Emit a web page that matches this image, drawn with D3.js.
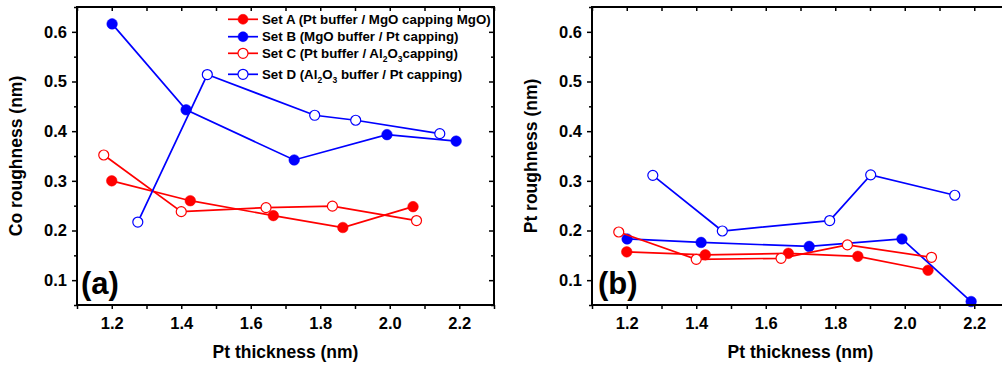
<!DOCTYPE html>
<html><head><meta charset="utf-8">
<script src="https://cdn.jsdelivr.net/npm/d3@7"></script>
<style>
html,body{margin:0;padding:0;background:#fff;}
svg{display:block;}
text{font-family:"Liberation Sans",Arial,sans-serif;font-weight:bold;}
</style></head>
<body>
<svg id="c" width="1002" height="365"></svg>
<script>
// Pt thickness (nm) for each sample set
const xA = [1.200, 1.426, 1.665, 1.865, 2.067];
const xB = [1.201, 1.414, 1.725, 1.992, 2.191];
const xC = [1.177, 1.400, 1.644, 1.835, 2.077];
const xD = [1.275, 1.475, 1.784, 1.902, 2.144];
// Co roughness (nm), panel (a)
const coA = [0.300, 0.260, 0.230, 0.206, 0.248];
const coB = [0.616, 0.443, 0.342, 0.393, 0.380];
const coC = [0.352, 0.238, 0.246, 0.249, 0.220];
const coD = [0.217, 0.514, 0.432, 0.422, 0.395];
// Pt roughness (nm), panel (b)
const ptA = [0.157, 0.151, 0.154, 0.148, 0.120];
const ptB = [0.183, 0.176, 0.168, 0.183, 0.057];
const ptC = [0.197, 0.142, 0.144, 0.171, 0.146];
const ptD = [0.311, 0.199, 0.220, 0.312, 0.271];
// ticks
const xMajor = [1.2, 1.4, 1.6, 1.8, 2.0, 2.2];
const xMinor = [1.1, 1.3, 1.5, 1.7, 1.9, 2.1, 2.3];
const yMajor = [0.1, 0.2, 0.3, 0.4, 0.5, 0.6];
const yMinor = [0.05, 0.15, 0.25, 0.35, 0.45, 0.55, 0.65];
const xDomain = [1.1, 2.3];
const yDomain = [0.05, 0.65];
// legend
const legendLabels = [
  [{t:"Set A (Pt buffer / MgO capping MgO)"}],
  [{t:"Set B (MgO buffer / Pt capping)"}],
  [{t:"Set C (Pt buffer / Al"},{t:"2",s:1},{t:"O"},{t:"3",s:1},{t:"capping)"}],
  [{t:"Set D (Al"},{t:"2",s:1},{t:"O"},{t:"3",s:1},{t:" buffer / Pt capping)"}]
];

const RED = "#ff0000", BLUE = "#0000ff";
const svg = d3.select("#c");

function panel(left, right, series, yTitle, tag, tagX, showLegend) {
  const top = 7, bottom = 305;
  const x = d3.scaleLinear().domain(xDomain).range([left, right]);
  const y = d3.scaleLinear().domain(yDomain).range([bottom, top]);
  const g = svg.append("g");

  const styleAxis = sel => { sel.select(".domain").remove(); sel.selectAll("line").attr("stroke","#000").attr("stroke-width",1.5); };
  // bottom
  g.append("g").attr("transform",`translate(0,${bottom})`)
    .call(d3.axisBottom(x).tickValues(xMajor).tickSize(4).tickPadding(8.5).tickFormat(d3.format(".1f")))
    .call(styleAxis)
    .call(s=>s.selectAll("text").attr("font-size",16.5).attr("fill","#000").attr("font-family",null));
  g.append("g").attr("transform",`translate(0,${bottom})`)
    .call(d3.axisBottom(x).tickValues(xMinor).tickSize(4).tickFormat(""))
    .call(styleAxis);
  // top (inward)
  g.append("g").attr("transform",`translate(0,${top})`)
    .call(d3.axisTop(x).tickValues(xMajor.concat(xMinor)).tickSize(-4).tickFormat(""))
    .call(styleAxis);
  // left
  g.append("g").attr("transform",`translate(${left},0)`)
    .call(d3.axisLeft(y).tickValues(yMajor).tickSize(5).tickPadding(5).tickFormat(d3.format(".1f")))
    .call(styleAxis)
    .call(s=>s.selectAll("text").attr("font-size",16.5).attr("fill","#000").attr("font-family",null));
  g.append("g").attr("transform",`translate(${left},0)`)
    .call(d3.axisLeft(y).tickValues(yMinor).tickSize(3).tickFormat(""))
    .call(styleAxis);
  // right (inward)
  g.append("g").attr("transform",`translate(${right},0)`)
    .call(d3.axisRight(y).tickValues(yMajor).tickSize(-5).tickFormat(""))
    .call(styleAxis);
  g.append("g").attr("transform",`translate(${right},0)`)
    .call(d3.axisRight(y).tickValues(yMinor).tickSize(-3).tickFormat(""))
    .call(styleAxis);

  // data
  const line = d3.line().x(d=>x(d[0])).y(d=>y(d[1]));
  series.forEach(s => {
    const pts = s.x.map((v,i)=>[v, s.y[i]]);
    g.append("path").attr("d", line(pts)).attr("fill","none").attr("stroke",s.c).attr("stroke-width",1.7);
    g.selectAll(null).data(pts).enter().append("circle")
      .attr("cx",d=>x(d[0])).attr("cy",d=>y(d[1])).attr("r", s.open?5:5.3)
      .attr("fill", s.open?"#fff":s.c).attr("stroke", s.c).attr("stroke-width", s.open?1.2:0.5);
  });

  // frame
  g.append("rect").attr("x",left).attr("y",top).attr("width",right-left).attr("height",bottom-top)
    .attr("fill","none").attr("stroke","#000").attr("stroke-width",2);

  // titles
  g.append("text").attr("x",(left+right)/2).attr("y",358).attr("text-anchor","middle")
    .attr("font-size",17.5).text("Pt thickness (nm)");
  g.append("text").attr("transform",`translate(${left-55},${(top+bottom)/2}) rotate(-90)`)
    .attr("text-anchor","middle").attr("font-size",17.5).text(yTitle);
  g.append("text").attr("x",tagX).attr("y",294).attr("font-family","'Open Sans',sans-serif")
    .attr("font-size",31).attr("font-weight","bold").text(tag);

  if (showLegend) {
    const rows = [19.3, 36.7, 53.3, 74.3];
    series.forEach((s,i) => {
      const cy = rows[i];
      g.append("line").attr("x1",228).attr("x2",258).attr("y1",cy).attr("y2",cy)
        .attr("stroke",s.c).attr("stroke-width",1.7);
      g.append("circle").attr("cx",243).attr("cy",cy).attr("r",5)
        .attr("fill",s.open?"#fff":s.c).attr("stroke",s.c).attr("stroke-width",s.open?1.2:0.5);
      const t = g.append("text").attr("x",262).attr("y",cy+4.6).attr("font-size",13.3);
      legendLabels[i].forEach((p,j) => {
        const prev = j>0 ? legendLabels[i][j-1] : null;
        const ts = t.append("tspan").text(p.t);
        if (p.s) ts.attr("font-size",8.5).attr("dy",4);
        else if (prev && prev.s) ts.attr("dy",-4);
      });
    });
  }
}

panel(77, 494, [
  {x:xA, y:coA, c:RED, open:false},
  {x:xB, y:coB, c:BLUE, open:false},
  {x:xC, y:coC, c:RED, open:true},
  {x:xD, y:coD, c:BLUE, open:true}
], "Co roughness (nm)", "(a)", 81, true);

panel(592, 1009, [
  {x:xA, y:ptA, c:RED, open:false},
  {x:xB, y:ptB, c:BLUE, open:false},
  {x:xC, y:ptC, c:RED, open:true},
  {x:xD, y:ptD, c:BLUE, open:true}
], "Pt roughness (nm)", "(b)", 598, false);
</script>
</body></html>
